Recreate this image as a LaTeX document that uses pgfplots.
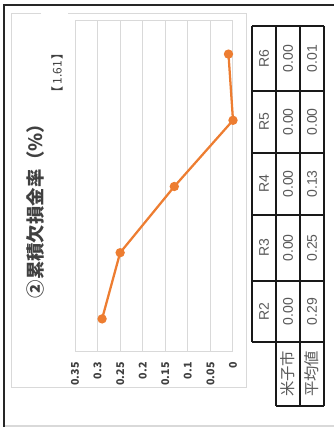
\documentclass[border=0pt]{standalone}
\usepackage{pgfplots}
\pgfplotsset{compat=1.18}
\usepackage{fontspec}
\setmainfont{Liberation Sans}
\newfontfamily\jp{Noto Sans CJK JP}
\definecolor{orng}{HTML}{ED7D31}
\definecolor{gridc}{HTML}{D9D9D9}
\definecolor{txt}{HTML}{595959}
\definecolor{dark}{HTML}{404040}
\begin{document}
\begin{tikzpicture}
\path[use as bounding box] (0,0) rectangle (250.5pt,320.25pt);
\begin{scope}[shift={(0pt,320.25pt)},x=0.75pt,y=-0.75pt]
  % outer frame
  \draw[gridc, line width=0.8pt] (4,426) -- (334,426);
  \draw[black!85, line width=1.1pt] (4,427) -- (4,5) -- (334,5);
  % chart area
  \draw[gridc, line width=0.75pt] (41,14) -- (11,14) -- (11,388) -- (246,388) -- (246,14) -- (68,14);
  % title
  \node[rotate=90, inner sep=0pt, text=dark, font=\jp\bfseries\fontsize{13.8}{15}\selectfont] at (35,206.5) {②累積欠損金率（\%）};
  \node[rotate=90, inner sep=0pt, text=dark, font=\jp\fontsize{9}{10}\selectfont] at (57,73) {\textbf{【}\,1.61\,\textbf{】}};
  % table
  \begin{scope}[line width=1.2pt, black!90]
    \foreach \yy in {26,91,153,215,281,342} \draw (252,\yy) -- (324,\yy);
    \draw (276,406) -- (324,406);
    \draw (252,26) -- (252,342);
    \foreach \xx in {276,300,324} \draw (\xx,26) -- (\xx,406);
  \end{scope}
  \begin{scope}[every node/.style={rotate=90, inner sep=0pt, text=txt, font=\fontsize{10.5}{12}\selectfont}]
    \node at (264,58.5) {R6};
    \node at (264,122) {R5};
    \node at (264,184) {R4};
    \node at (264,248) {R3};
    \node at (264,311.5) {R2};
    \node at (288,58.5) {0.00};
    \node at (288,122) {0.00};
    \node at (288,184) {0.00};
    \node at (288,248) {0.00};
    \node at (288,311.5) {0.00};
    \node at (312,58.5) {0.01};
    \node at (312,122) {0.00};
    \node at (312,184) {0.13};
    \node at (312,248) {0.25};
    \node at (312,311.5) {0.29};
    \node[font=\jp\fontsize{11.5}{13}\selectfont] at (288,374) {米子市};
    \node[font=\jp\fontsize{11.5}{13}\selectfont] at (312,374) {平均値};
  \end{scope}
\end{scope}
\begin{axis}[
  at={(56.25pt,56.25pt)}, anchor=south west,
  scale only axis, width=118.5pt, height=248.25pt,
  xmin=0, xmax=0.35, x dir=reverse,
  ymin=0.5, ymax=5.5,
  axis line style={draw=gridc, line width=0.75pt},
  xtick={0,0.05,0.1,0.15,0.2,0.25,0.3,0.35},
  xticklabels={0,0.05,0.1,0.15,0.2,0.25,0.3,0.35},
  xmajorgrids, grid style={gridc, line width=0.75pt},
  ytick=\empty,
  major tick length=0pt,
  xticklabel shift=7.5pt,
  xticklabel style={rotate=90, anchor=east, inner sep=0pt, text=dark, font=\jp\bfseries\fontsize{8}{9}\selectfont},
  clip=false,
]
\addplot[orng, line width=1.7pt, mark=*, mark size=2.6pt, mark options={fill=orng, draw=orng}]
  coordinates {(0.29,1) (0.25,2) (0.13,3) (0.00,4) (0.01,5)};
\end{axis}
\end{tikzpicture}
\end{document}
